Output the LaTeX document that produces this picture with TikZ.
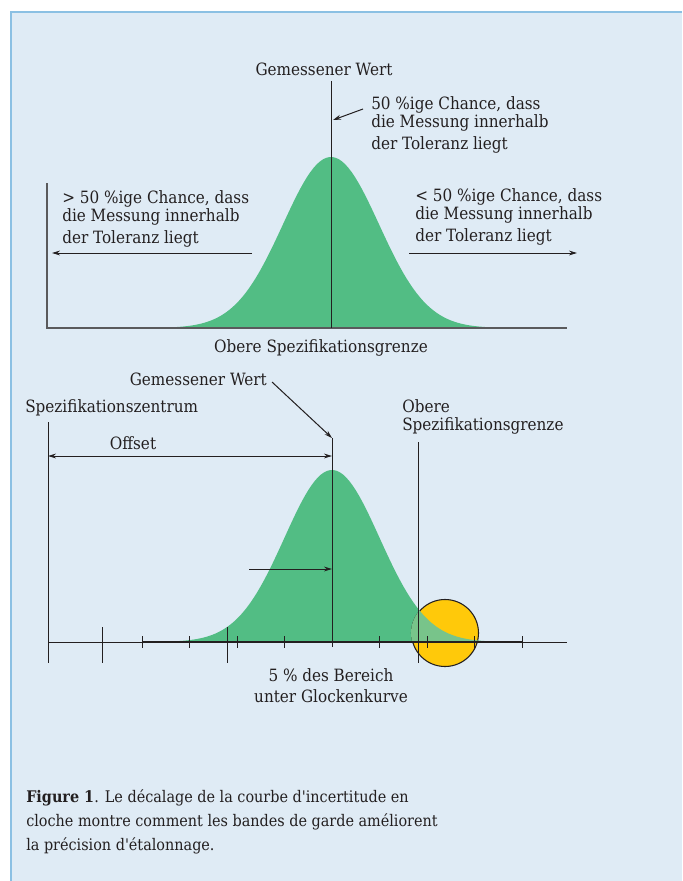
\documentclass[tikz,border=0pt]{standalone}
\usepackage{fontspec}
\setmainfont{DejaVu Serif Condensed}[Ligatures=TeXOff]
\usetikzlibrary{arrows.meta}
\definecolor{panel}{RGB}{223,235,245}
\definecolor{rim}{RGB}{139,192,227}
\definecolor{bell}{RGB}{82,189,132}
\definecolor{bellpale}{RGB}{120,196,138}
\definecolor{gold}{RGB}{255,201,10}
\definecolor{ink}{RGB}{35,31,32}
\definecolor{axisgray}{RGB}{90,90,92}
\tikzset{
  lbl/.style={inner sep=0pt, font=\fontsize{12.7}{13.5}\selectfont, text=ink},
  captext/.style={inner sep=0pt, font=\fontsize{12}{18}\selectfont, text=ink, align=left},
  thinline/.style={draw=ink, line width=0.75pt},
  arr/.style={thinline, -{Stealth[length=6pt,width=3.6pt]}},
  darr/.style={thinline, {Stealth[length=6pt,width=3.6pt]}-{Stealth[length=6pt,width=3.6pt]}},
}
\begin{document}
\begin{tikzpicture}[x=0.75pt,y=-0.75pt]
\useasboundingbox (0,0) rectangle (682,881);
\fill[white] (0,0) rectangle (682,881);
\fill[panel] (10,11) rectangle (682,881);
\draw[rim, line width=1.2pt] (10.8,881) -- (10.8,11.8) -- (682,11.8);

% ---------- top chart ----------
\fill[bell] plot[domain=139:523, samples=120] (\x,{328-171*exp(-0.5*((\x-331)/48)^2)}) -- cycle;
\coordinate (tAxTop) at (47,183);
\coordinate (tOrigin) at (47,328);
\coordinate (tAxEnd) at (567,328);
\draw[axisgray, line width=0.9pt] (tAxTop) -- (tOrigin) -- (tAxEnd);
\coordinate (tMidTop) at (331,81);
\coordinate (tMidBot) at (331,328);
\draw[thinline] (tMidTop) -- (tMidBot);
\node[lbl, anchor=base] (gw1) at (324,75) {Gemessener Wert};
\node[lbl, anchor=base west, align=left] (c50) at (371,149) {50 \%ige Chance, dass\\die Messung innerhalb\\[3pt]der Toleranz liegt};
\coordinate (c50tip) at (333,120);
\coordinate (c50s) at (363,109);
\draw[arr] (c50s) -- (c50tip);
\node[lbl, anchor=base west, align=left] (cgt) at (62,243) {> 50 \%ige Chance, dass\\die Messung innerhalb\\[3pt]der Toleranz liegt};
\coordinate (lA) at (252,253); \coordinate (lB) at (52,253);
\draw[arr] (lA) -- (lB);
\node[lbl, anchor=base west, align=left] (clt) at (415,241) {< 50 \%ige Chance, dass\\die Messung innerhalb\\[3pt]der Toleranz liegt};
\coordinate (rA) at (409,253); \coordinate (rB) at (577,253);
\draw[arr] (rA) -- (rB);
\node[lbl, anchor=base] (osg1) at (321,352) {Obere Spezifikationsgrenze};

% ---------- bottom chart ----------
\fill[bell] plot[domain=142:522, samples=120] (\x,{642-172*exp(-0.5*((\x-332)/47.5)^2)}) -- cycle;
\node[lbl, anchor=base east] (gw2) at (267,385) {Gemessener Wert};
\coordinate (gw2s) at (272,382);
\coordinate (gw2tip) at (332,438);
\draw[arr] (gw2s) -- (gw2tip);
\node[lbl, anchor=base west] (sz) at (25,412) {Spezifikationszentrum};
\coordinate (szTop) at (48,422); \coordinate (szBot) at (48,663);
\draw[thinline] (szTop) -- (szBot);
\node[lbl, anchor=base] (off) at (133,449) {Offset};
\coordinate (offL) at (48,456); \coordinate (offR) at (332,456);
\draw[darr] (offL) -- (offR);
\coordinate (mTop) at (332,438); \coordinate (mBot) at (332,647);
\draw[thinline] (mTop) -- (mBot);
\coordinate (inA) at (249,569); \coordinate (inB) at (332,569);
\draw[arr] (inA) -- (inB);
\node[lbl, anchor=base west, align=left] (osg2) at (402,430) {Obere\\Spezifikationsgrenze};
\coordinate (oTop) at (418,442); \coordinate (oBot) at (418,663);
% circle
\coordinate (circ) at (445,633);
\fill[gold] (circ) circle (33.5);
\draw[ink, line width=0.8pt] (circ) circle (33.5);
\begin{scope}
  \clip (circ) circle (34);
  \fill[bellpale] plot[domain=142:522, samples=120] (\x,{642-172*exp(-0.5*((\x-332)/47.5)^2)}) -- cycle;
\end{scope}
\draw[thinline] (oTop) -- (oBot);
% axis
\coordinate (axL) at (48,642); \coordinate (axR) at (567,642);
\draw[thinline] (axL) -- (axR);
\draw[ink, line width=1.8pt] (142,642) -- (522,642);
\foreach \t in {102,227} \draw[thinline] (\t,627) -- (\t,663);
\foreach \t in {142,189.5,237,284.5,379.5,427,474.5,522} \draw[thinline] (\t,636) -- (\t,648);
\node[lbl, anchor=base, align=center] (five) at (331,702) {5 \% des Bereich\\[2pt]unter Glockenkurve};

% ---------- caption ----------
\node[captext, anchor=base west] (capt) at (26,850) {\textbf{Figure 1}. Le décalage de la courbe d'incertitude en\\cloche montre comment les bandes de garde améliorent\\la précision d'étalonnage.};
\end{tikzpicture}
\end{document}
